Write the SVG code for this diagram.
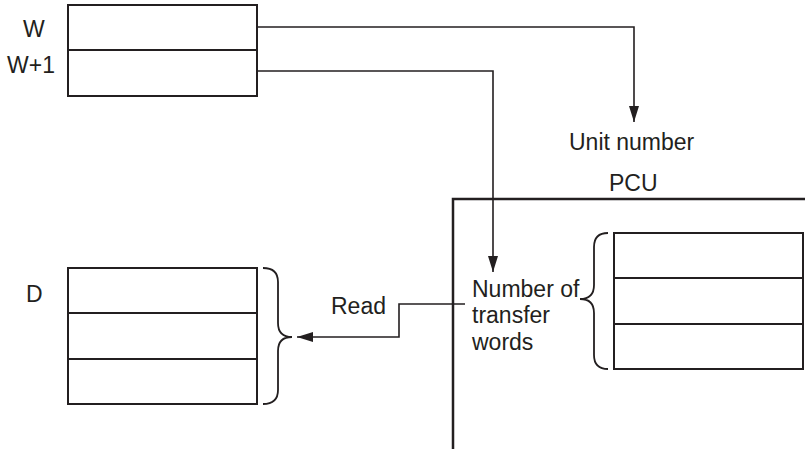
<svg xmlns="http://www.w3.org/2000/svg" width="805" height="452" viewBox="0 0 805 452">
<style>
.t{font-family:"Liberation Sans",Arial,sans-serif;font-size:23px;fill:#231f20}
.box{fill:#fff;stroke:#231f20;stroke-width:2}
.div{stroke:#231f20;stroke-width:1.8}
.ln{fill:none;stroke:#231f20;stroke-width:1.6}
.br{fill:none;stroke:#231f20;stroke-width:1.8}
</style>
<defs>
<marker id="ah" viewBox="0 0 16 10" refX="16" refY="5" markerWidth="16" markerHeight="10" markerUnits="userSpaceOnUse" orient="auto">
<path d="M0,0 L16,5 L0,10 z" fill="#231f20"/>
</marker>
</defs>
<rect width="805" height="452" fill="#fff"/>
<g id="wbox">
<rect class="box" x="68" y="5" width="189" height="91"/>
<line class="div" x1="68" y1="50" x2="257" y2="50"/>
<text class="t" x="23" y="37">W</text>
<text class="t" x="7" y="73">W+1</text>
</g>
<g id="dbox">
<rect class="box" x="68" y="268" width="189" height="136"/>
<line class="div" x1="68" y1="313" x2="257" y2="313"/>
<line class="div" x1="68" y1="359" x2="257" y2="359"/>
<text class="t" x="26" y="302">D</text>
<path class="br" d="M263,268 Q278,268 278,282 L278,323 Q278,337 292,337 Q278,337 278,351 L278,390 Q278,404 263,404"/>
</g>
<g id="pcu">
<path fill="none" stroke="#231f20" stroke-width="2.5" d="M453,449 L453,199 L805,199"/>
<text class="t" x="609" y="191">PCU</text>
<rect class="box" x="614" y="233" width="189" height="136"/>
<line class="div" x1="614" y1="278" x2="803" y2="278"/>
<line class="div" x1="614" y1="324" x2="803" y2="324"/>
<path class="br" d="M608,233 Q594,233 594,247 L594,285 Q594,299 580,299 Q594,299 594,313 L594,355 Q594,369 608,369"/>
<text class="t" x="472" y="297">Number of</text>
<text class="t" x="472" y="323">transfer</text>
<text class="t" x="472" y="350">words</text>
</g>
<g id="unit">
<text class="t" x="569" y="150">Unit number</text>
</g>
<g id="connectors">
<path class="ln" d="M257,27 L634,27 L634,122" marker-end="url(#ah)"/>
<path class="ln" d="M257,71 L493,71 L493,272" marker-end="url(#ah)"/>
<path class="ln" d="M465,304 L399,304 L399,337 L297,337" marker-end="url(#ah)"/>
<text class="t" x="331" y="314">Read</text>
</g>
</svg>
